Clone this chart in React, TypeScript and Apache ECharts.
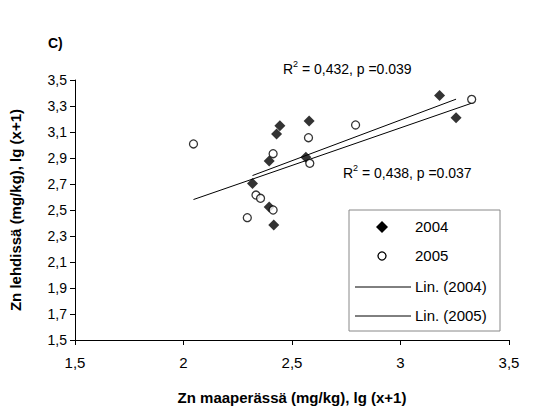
import * as echarts from "echarts";
import { useEffect, useRef } from "react";

const data2004: [number, number][] = [
  [3.18, 3.38], [3.256, 3.21], [2.444, 3.149], [2.429, 3.085], [2.579, 3.185],
  [2.395, 2.877], [2.564, 2.905], [2.318, 2.703], [2.395, 2.523], [2.416, 2.385],
];
const data2005: [number, number][] = [
  [2.046, 3.008], [3.328, 3.351], [2.793, 3.154], [2.576, 3.056], [2.413, 2.933],
  [2.582, 2.859], [2.334, 2.615], [2.355, 2.59], [2.413, 2.5], [2.294, 2.441],
];
const xTicks = ["1,5", "2", "2,5", "3", "3,5"];

function fit(d: [number, number][]): [number, number][] {
  const n = d.length;
  const mx = d.reduce((s, p) => s + p[0], 0) / n;
  const my = d.reduce((s, p) => s + p[1], 0) / n;
  let sxy = 0, sxx = 0;
  d.forEach(([x, y]) => { sxy += (x - mx) * (y - my); sxx += (x - mx) ** 2; });
  const b = sxy / sxx, a = my - b * mx;
  const xs = d.map((p) => p[0]);
  const x0 = Math.min(...xs), x1 = Math.max(...xs);
  return [[x0, a + b * x0], [x1, a + b * x1]];
}

const font = "'Liberation Sans', Arial, sans-serif";

export default function App() {
  const ref = useRef<HTMLDivElement>(null);
  useEffect(() => {
    if (!ref.current) return;
    const chart = echarts.init(ref.current, undefined, { renderer: "svg" });
    const txt = (x: number, y: number, text: string, extra: any = {}) => ({
      type: "text", x, y,
      style: { text, font: `14px ${font}`, fill: "#000", ...extra },
    });
    chart.setOption({
      animation: false,
      textStyle: { fontFamily: font },
      grid: { left: 74, right: 38, top: 80, bottom: 74 },
      xAxis: {
        type: "value", min: 1.5, max: 3.5, interval: 0.5,
        axisLine: { lineStyle: { color: "#000" } },
        axisTick: { lineStyle: { color: "#000" } },
        splitLine: { show: false },
        axisLabel: {
          color: "#000", fontSize: 15, margin: 15,
          formatter: (v: number) => xTicks[Math.round((v - 1.5) / 0.5)],
        },
        name: "Zn maaperässä (mg/kg), lg (x+1)",
        nameLocation: "middle", nameGap: 50,
        nameTextStyle: { color: "#000", fontWeight: "bold", fontSize: 15 },
      },
      yAxis: {
        type: "value", min: 1.5, max: 3.5, interval: 0.2,
        axisLine: { show: true, lineStyle: { color: "#000" } },
        axisTick: { show: true, lineStyle: { color: "#000" } },
        splitLine: { show: false },
        axisLabel: {
          color: "#000", fontSize: 14, margin: 8,
          formatter: (v: number) => v.toFixed(1).replace(".", ","),
        },
        name: "Zn lehdissä (mg/kg), lg (x+1)",
        nameLocation: "middle", nameGap: 52,
        nameTextStyle: { color: "#000", fontWeight: "bold", fontSize: 15 },
      },
      series: [
        { type: "line", data: fit(data2004), symbol: "none", lineStyle: { color: "#000", width: 1 }, z: 1 },
        { type: "line", data: fit(data2005), symbol: "none", lineStyle: { color: "#000", width: 1 }, z: 1 },
        { type: "scatter", data: data2004, symbol: "diamond", symbolSize: 11, itemStyle: { color: "#000" }, z: 3 },
        {
          type: "scatter", data: data2005, symbol: "circle", symbolSize: 8,
          itemStyle: { color: "#fff", borderColor: "#000", borderWidth: 1.3 }, z: 3,
        },
      ],
      graphic: [
        txt(48, 36, "C)", { font: `bold 14px ${font}` }),
        txt(283, 62, "R"), txt(293, 59, "2", { font: `9px ${font}` }),
        txt(298, 62, " = 0,432, p =0.039"),
        txt(343, 166, "R"), txt(353, 163, "2", { font: `9px ${font}` }),
        txt(358, 166, " = 0,438, p =0.037"),
        { type: "rect", shape: { x: 349, y: 210, width: 151, height: 121 }, style: { fill: "#fff", stroke: "#888", lineWidth: 1 } },
        { type: "polygon", shape: { points: [[382, 221], [388, 227], [382, 233], [376, 227]] }, style: { fill: "#000" } },
        { type: "circle", shape: { cx: 382, cy: 256, r: 4 }, style: { fill: "#fff", stroke: "#000", lineWidth: 1.3 } },
        { type: "line", shape: { x1: 355, y1: 287, x2: 411, y2: 287 }, style: { stroke: "#000", lineWidth: 1 } },
        { type: "line", shape: { x1: 355, y1: 316, x2: 411, y2: 316 }, style: { stroke: "#000", lineWidth: 1 } },
        txt(415, 219, "2004", { font: `15px ${font}` }), txt(415, 248, "2005", { font: `15px ${font}` }),
        txt(415, 279, "Lin. (2004)", { font: `15px ${font}` }), txt(415, 308, "Lin. (2005)", { font: `15px ${font}` }),
      ],
    });
    return () => chart.dispose();
  }, []);
  return <div ref={ref} style={{ position: "absolute", left: 0, top: 0, width: 547, height: 414 }} />;
}
